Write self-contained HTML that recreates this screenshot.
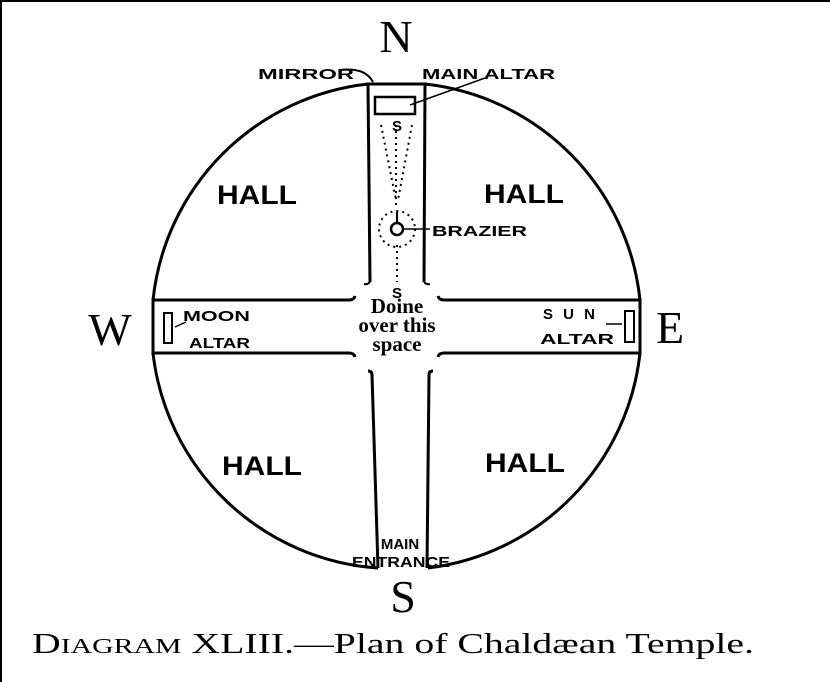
<!DOCTYPE html>
<html><head><meta charset="utf-8"><style>
body{margin:0;background:#fff;}
svg{display:block}
.h{font-family:"Liberation Sans",sans-serif;font-weight:bold;font-size:27px}
.s{font-family:"Liberation Sans",sans-serif;font-weight:bold;font-size:15px}
.r{font-family:"Liberation Serif",serif}
</style></head><body>
<svg width="830" height="682" viewBox="0 0 830 682" xmlns="http://www.w3.org/2000/svg">
<path d="M1 682 L1 1 L830 1" fill="none" stroke="#000" stroke-width="2"/>
<path d="M368 84 A243 243 0 0 0 153 300" fill="none" stroke="#000" stroke-width="3"/>
<path d="M425 84 A243 243 0 0 1 640 300" fill="none" stroke="#000" stroke-width="3"/>
<path d="M153 353 A243 243 0 0 0 378 568" fill="none" stroke="#000" stroke-width="3"/>
<path d="M640 353 A243 243 0 0 1 428 568" fill="none" stroke="#000" stroke-width="3"/>
<line x1="153" y1="298" x2="153" y2="355" stroke="#000" stroke-width="3"/>
<line x1="640" y1="298" x2="640" y2="355" stroke="#000" stroke-width="3"/>
<path d="M370 282 L368 84 L425 84 L424 282" fill="none" stroke="#000" stroke-width="3"/>
<path d="M370 282 q-3 3 -6 2 M424 282 q3 3 6 2" fill="none" stroke="#000" stroke-width="2"/>
<rect x="375" y="97" width="40" height="17" fill="none" stroke="#000" stroke-width="2.5"/>
<path d="M153 300 L349 300 q5 0 6 -4 M153 353 L349 353 q5 0 6 4" fill="none" stroke="#000" stroke-width="3"/>
<path d="M640 300 L444 300 q-5 0 -6 -4 M640 353 L444 353 q-5 0 -6 4" fill="none" stroke="#000" stroke-width="3"/>
<path d="M368 371 q4 0 4 4 L378 568 M433 371 q-4 0 -4 4 L427 568" fill="none" stroke="#000" stroke-width="3"/>
<rect x="164" y="313" width="8" height="30" fill="none" stroke="#000" stroke-width="2"/>
<rect x="625" y="311" width="9" height="31" fill="none" stroke="#000" stroke-width="2"/>
<path d="M186 322 L175 327" stroke="#000" stroke-width="1.5"/>
<path d="M606 324 L622 324" stroke="#000" stroke-width="1.5"/>
<g stroke="#000" stroke-width="2" stroke-dasharray="2 4" fill="none">
<line x1="381" y1="125" x2="396" y2="200"/>
<line x1="412" y1="125" x2="398" y2="200"/>
<line x1="396" y1="125" x2="396" y2="205"/>
<circle cx="397" cy="229" r="18"/>
<line x1="397" y1="245" x2="397" y2="282"/>
</g>
<circle cx="397" cy="229" r="6" fill="none" stroke="#000" stroke-width="2.5"/>
<line x1="397" y1="212" x2="397" y2="222" stroke="#000" stroke-width="2"/>
<line x1="404" y1="229" x2="430" y2="229" stroke="#000" stroke-width="1.5"/>
<path d="M340 70 q25 -3 33 12" fill="none" stroke="#000" stroke-width="2"/>
<line x1="485" y1="78" x2="410" y2="105" stroke="#000" stroke-width="1.5"/>
<text x="396" y="52" class="r" font-size="46" text-anchor="middle">N</text>
<text x="110" y="345" class="r" font-size="46" text-anchor="middle">W</text>
<text x="670" y="343" class="r" font-size="46" text-anchor="middle">E</text>
<text x="403" y="612" class="r" font-size="46" text-anchor="middle">S</text>
<text x="258" y="79" class="s" textLength="96" lengthAdjust="spacingAndGlyphs">MIRROR</text>
<text x="422" y="79" class="s" textLength="133" lengthAdjust="spacingAndGlyphs">MAIN ALTAR</text>
<text x="432" y="236" class="s" textLength="95" lengthAdjust="spacingAndGlyphs">BRAZIER</text>
<text x="397" y="131" class="s" font-size="11" text-anchor="middle">S</text>
<text x="397" y="298" class="s" font-size="11" text-anchor="middle">S</text>
<text x="183" y="321" class="s" textLength="67" lengthAdjust="spacingAndGlyphs">MOON</text>
<text x="189" y="348" class="s" textLength="61" lengthAdjust="spacingAndGlyphs">ALTAR</text>
<text x="543" y="319" class="s" textLength="52" lengthAdjust="spacing">SUN</text>
<text x="540" y="344" class="s" textLength="74" lengthAdjust="spacingAndGlyphs">ALTAR</text>
<text x="397" y="313" class="r" font-size="21" font-weight="bold" text-anchor="middle">Doine</text>
<text x="397" y="332" class="r" font-size="21" font-weight="bold" text-anchor="middle">over this</text>
<text x="397" y="351" class="r" font-size="21" font-weight="bold" text-anchor="middle">space</text>
<text x="400" y="549" class="s" font-size="12" text-anchor="middle">MAIN</text>
<text x="352" y="567" class="s" font-size="13" textLength="98" lengthAdjust="spacingAndGlyphs">ENTRANCE</text>
<text x="217" y="204" class="h" textLength="80" lengthAdjust="spacingAndGlyphs">HALL</text>
<text x="484" y="203" class="h" textLength="80" lengthAdjust="spacingAndGlyphs">HALL</text>
<text x="222" y="475" class="h" textLength="80" lengthAdjust="spacingAndGlyphs">HALL</text>
<text x="485" y="472" class="h" textLength="80" lengthAdjust="spacingAndGlyphs">HALL</text>
<text x="32" y="653" class="r" font-size="28" textLength="722" lengthAdjust="spacingAndGlyphs">D<tspan font-size="21">IAGRAM</tspan> XLIII.—Plan of Chaldæan Temple.</text>
</svg>
</body></html>
